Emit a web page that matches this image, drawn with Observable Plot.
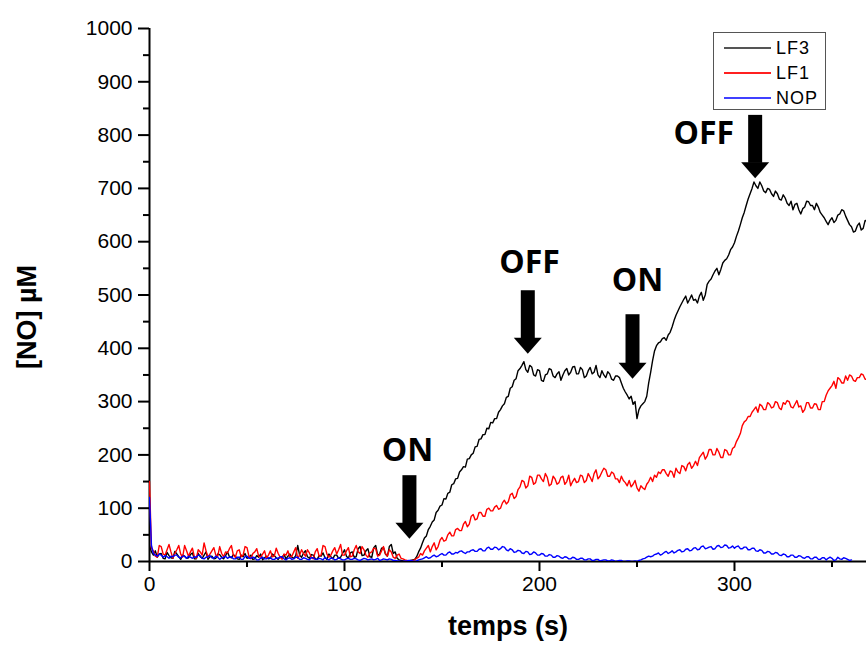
<!DOCTYPE html>
<html><head><meta charset="utf-8">
<script src="https://cdn.jsdelivr.net/npm/d3@7"></script>
<script src="https://cdn.jsdelivr.net/npm/@observablehq/plot@0.6"></script>
<style>
body{margin:0;background:#fff;}
#wrap{position:relative;width:866px;height:651px;overflow:hidden;}
.legend{position:absolute;left:713px;top:32px;width:113px;height:78px;border:1px solid #555;box-sizing:border-box;background:#fff;font-family:"Liberation Sans",Arial,sans-serif;font-size:18px;color:#000;}
.legend .row{position:absolute;left:0;height:22px;width:110px;}
.legend .sw{position:absolute;left:10px;top:10px;width:47px;height:2px;}
.legend .lb{position:absolute;left:62px;top:0;line-height:22px;letter-spacing:1px;}
</style>
</head><body>
<div id="wrap"></div>
<script>
// sampling interval of the recordings (s)
const sampleStep = 1;
const seriesNames = ["LF3", "LF1", "NOP"];
const seriesColors = ["#000000", "#ff0000", "#0000ff"];
const legendColors = ["#555555", "#ff2020", "#4040ff"];

// [NO] (µM) every second from t = 0
const lf3 = [
  30,18,12,20,8,14,15,6,5,17,11,7,6,19,14,9,4,12,10,6,
  7,13,16,5,5,15,9,6,12,18,4,9,10,5,6,14,13,8,5,11,
  18,9,7,13,10,5,4,12,9,15,6,8,12,4,5,11,8,14,3,7,
  10,5,6,14,11,7,4,9,8,13,5,10,14,8,6,11,30,12,8,16,
  20,9,6,13,12,5,4,11,10,16,7,4,14,9,5,12,12,6,8,15,
  22,10,6,16,18,8,9,24,28,11,12,20,24,9,8,26,30,12,14,25,
  26,14,10,28,32,15,18,6,3,2,1,0,0,1,2,3,4,9,18,25,
  35,44,48,60,66,74,78,92,96,104,106,118,117,128,130,144,146,155,156,168,
  172,178,177,192,193,200,203,215,216,229,230,238,238,250,249,261,260,268,268,280,
  285,292,296,308,310,325,328,340,343,358,362,368,375,360,355,368,365,350,348,360,
  358,340,338,350,352,362,360,348,345,352,356,340,350,358,362,350,355,365,366,352,
  352,364,360,345,348,358,364,352,355,368,350,345,358,350,345,356,352,342,340,348,
  348,345,335,325,318,312,305,310,295,300,268,285,292,296,300,310,335,355,377,395,
  405,410,412,418,420,415,425,430,440,452,462,470,478,485,492,498,485,492,500,490,
  492,485,498,505,490,500,520,526,530,538,545,550,538,548,560,565,568,575,585,590,
  598,610,620,632,645,655,668,680,690,700,712,705,700,712,705,695,692,700,698,690,
  685,695,690,680,678,688,682,672,668,676,660,670,672,660,652,662,665,676,675,668,
  668,660,672,665,655,650,645,638,632,640,645,636,640,650,652,660,658,648,640,632,
  628,618,620,630,635,622,625,640,638
];
const lf1 = [
  150,25,20,10,8,30,28,14,12,22,32,18,6,15,22,30,14,8,30,20,
  10,18,25,9,6,22,18,12,35,20,8,14,20,26,12,10,28,15,9,18,
  16,24,30,12,8,20,22,9,12,28,26,10,5,15,18,24,10,8,14,20,
  6,12,20,9,10,25,15,8,4,14,12,20,8,10,18,26,6,12,22,15,
  10,22,16,8,5,18,24,10,12,30,28,14,8,12,20,26,14,22,32,12,
  12,20,26,9,10,22,30,18,15,28,22,12,8,16,18,25,24,10,12,20,
  28,15,10,22,18,8,6,12,14,6,5,3,2,1,1,2,3,6,8,15,
  12,20,25,30,18,28,35,22,28,40,45,38,40,50,55,48,48,60,62,58,
  58,70,75,65,70,85,88,78,80,92,92,85,85,98,100,95,95,102,105,98,
  100,110,115,108,112,125,128,118,122,135,140,152,150,138,142,160,158,145,148,162,
  162,155,150,165,158,142,145,160,155,145,148,158,160,145,150,162,142,150,156,148,
  150,162,160,148,152,165,158,150,165,172,155,160,168,175,172,160,160,168,165,155,
  155,148,160,152,148,142,152,140,145,152,138,132,142,138,135,145,150,158,150,162,
  158,168,165,172,172,165,160,170,168,158,175,168,165,180,178,170,182,186,175,180,
  188,180,195,200,205,192,198,210,210,200,200,212,205,195,195,210,208,200,200,212,
  215,225,232,240,255,262,265,272,272,280,285,290,280,295,292,285,285,298,295,288,
  290,300,298,288,285,298,295,302,300,290,288,295,302,290,292,280,285,298,298,288,
  288,296,295,285,285,300,300,312,320,325,330,338,325,345,342,335,335,348,340,350,
  348,340,338,345,345,352,350,342,342
];
const nop = [
  120,30,15,12,10,14,12,8,11,9,6,10,9,12,12,8,7,10,10,6,
  10,8,6,9,8,12,11,6,5,8,9,11,7,6,10,8,4,7,8,10,
  6,8,9,5,5,8,8,4,4,9,10,6,6,8,7,3,3,6,8,5,
  5,7,7,4,4,6,6,9,9,5,3,6,7,4,5,8,8,4,4,7,
  6,4,3,7,7,4,4,6,5,3,8,5,3,6,6,3,4,7,5,3,
  3,5,6,4,4,6,5,3,2,4,6,5,3,4,5,3,4,6,2,3,
  5,4,3,5,4,2,2,1,1,0,0,1,1,2,2,1,0,1,3,4,
  5,7,9,6,7,10,12,9,10,13,15,12,12,16,18,14,14,17,16,19,
  20,17,15,18,18,21,22,19,19,23,24,20,20,25,27,23,23,27,26,22,
  24,28,27,22,20,24,22,17,18,21,20,16,15,19,18,13,14,18,16,12,
  12,15,14,10,10,13,12,8,8,11,10,7,6,9,8,5,5,8,7,4,
  4,6,6,3,3,5,5,2,2,4,4,1,2,3,3,1,1,3,2,0,
  1,2,2,0,0,1,1,0,0,1,0,2,3,5,6,8,10,9,10,13,
  14,16,12,14,17,19,15,17,20,16,18,21,22,18,19,23,24,20,21,25,
  26,22,23,28,29,24,25,27,28,23,24,29,30,26,27,31,30,25,26,29,
  25,28,29,24,24,27,27,22,22,25,25,20,19,22,21,16,16,19,18,14,
  14,17,16,12,11,14,13,9,9,12,12,8,8,11,10,7,6,9,9,5,
  5,8,8,4,4,7,7,3,6,8,6,2,3,8,5,4,7,6,4,2,
  3
];

// axis ticks
const xMajor = [0, 100, 200, 300];
const xMinor = [50, 150, 250, 350];
const yMajor = [0, 100, 200, 300, 400, 500, 600, 700, 800, 900, 1000];
const yMinor = [50, 150, 250, 350, 450, 550, 650, 750, 850, 950];

// ON / OFF annotations (data coordinates)
const annLabel = ["ON", "OFF", "ON", "OFF"];
const annArrowT = [133.3, 194, 247.7, 310.6];
const annArrowTop = [161, 508, 463, 837];
const annArrowBase = [71, 418, 371, 747];
const annTextT = [132.3, 194.9, 250.3, 284.3];
const annTextV = [208, 561, 527, 802];

const rows = [];
[lf3, lf1, nop].forEach((arr, k) => arr.forEach((v, i) => rows.push({t: i * sampleStep, v, s: seriesNames[k]})));
const ann = annLabel.map((label, i) => ({label, t: annArrowT[i], top: annArrowTop[i], base: annArrowBase[i], tx: annTextT[i], ty: annTextV[i]}));

const head = {draw(ctx) { ctx.moveTo(-14, -1); ctx.lineTo(14, -1); ctx.lineTo(0, 15); ctx.closePath(); }};

const chart = Plot.plot({
  width: 866, height: 651,
  marginLeft: 149, marginRight: 0, marginTop: 28, marginBottom: 90,
  style: {fontFamily: "'Liberation Sans', Arial, sans-serif", fontSize: "21px", color: "#000", background: "#fff"},
  x: {domain: [0, 367.7], label: null},
  y: {domain: [0, 1000], label: null},
  color: {domain: seriesNames, range: seriesColors},
  marks: [
    Plot.axisX(xMajor, {tickSize: 10, tickPadding: 5, strokeWidth: 2, fontSize: 21, tickFormat: d => String(d), label: null}),
    Plot.axisX(xMinor, {tickSize: 6, strokeWidth: 2, tickFormat: () => "", label: null}),
    Plot.axisY(yMajor, {tickSize: 11, tickPadding: 6, strokeWidth: 2, fontSize: 21, tickFormat: d => String(d), label: null}),
    Plot.axisY(yMinor, {tickSize: 6, strokeWidth: 2, tickFormat: () => "", label: null}),
    Plot.ruleY([0], {strokeWidth: 2}),
    Plot.ruleX([0], {strokeWidth: 2}),
    ...seriesNames.map(name => Plot.line(rows.filter(d => d.s === name), {x: "t", y: "v", stroke: "s", strokeWidth: 1.4, clip: true})),
    Plot.ruleX(ann, {x: "t", y1: "base", y2: "top", strokeWidth: 14, stroke: "black"}),
    Plot.dot(ann, {x: "t", y: "base", symbol: head, r: 10, fill: "black", stroke: null}),
    Plot.text(ann, {x: "tx", y: "ty", text: "label", fontSize: 32, fontWeight: 700, fontFamily: "'Open Sans', sans-serif", fill: "black"}),
    Plot.text(["temps (s)"], {frameAnchor: "bottom", dy: 73, fontSize: 27, fontWeight: 700, fill: "black"}),
    Plot.text(["[NO] µM"], {frameAnchor: "left", textAnchor: "middle", dx: -122, dy: 22, rotate: -90, fontSize: 27, fontWeight: 700, fill: "black"})
  ]
});
const wrap = document.getElementById("wrap");
wrap.appendChild(chart);

const legend = document.createElement("div");
legend.className = "legend";
seriesNames.forEach((name, i) => {
  const row = document.createElement("div");
  row.className = "row";
  row.style.top = (4 + i * 25) + "px";
  const sw = document.createElement("div");
  sw.className = "sw";
  sw.style.background = legendColors[i];
  const lb = document.createElement("div");
  lb.className = "lb";
  lb.textContent = name;
  row.appendChild(sw); row.appendChild(lb);
  legend.appendChild(row);
});
wrap.appendChild(legend);
</script>
</body></html>
